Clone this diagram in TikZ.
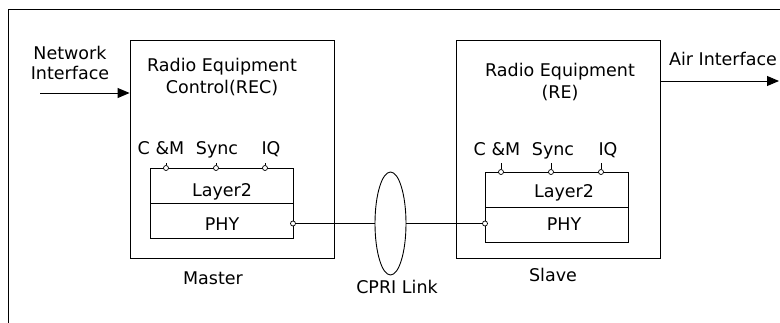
\documentclass[tikz,border=0pt]{standalone}
\usepackage{fontspec}
\setmainfont{DejaVu Sans}
\usetikzlibrary{arrows.meta,shapes.geometric}
\begin{document}
\begin{tikzpicture}[x=1pt,y=-1pt,
  every node/.style={font=\fontsize{17.5}{21}\selectfont, inner sep=0pt},
  txt/.style={anchor=base},
  box/.style={draw, line width=0.9pt, inner sep=0pt},
  ln/.style={line width=0.9pt},
  port/.style={circle, draw, fill=white, line width=0.7pt, minimum size=5pt, inner sep=0pt},
  arr/.style={ln, -{Triangle[length=12pt,width=10pt]}}]
\useasboundingbox (0,0) rectangle (780,322);
% frame
\coordinate (fbl) at (8,323);
\coordinate (ftl) at (8,9);
\coordinate (ftr) at (781,9);
\draw[ln] (fbl) -- (ftl) -- (ftr);
% master
\node[box, minimum width=204pt, minimum height=218pt] (rec) at (232,149) {};
\node[box, minimum width=143pt, minimum height=35pt] (ml2) at (221.5,185.5) {};
\node[box, minimum width=143pt, minimum height=35pt] (mphy) at (221.5,220.5) {};
\node[txt] (ml2t) at (222,196.5) {Layer2};
\node[txt] (mphyt) at (222,230) {PHY};
\node[txt] (rect1) at (222,71.7) {Radio Equipment};
\node[txt] (rect2) at (222,93.5) {Control(REC)};
\node[txt] (mcm) at (161,154) {C \&M};
\node[txt] (msy) at (217,154) {Sync};
\node[txt] (miq) at (271,154) {IQ};
\node[txt] (mast) at (213,284) {Master};
\coordinate (mt1) at (166,163);
\coordinate (mt2) at (216,163);
\coordinate (mt3) at (265,163);
\node[port] (mp1) at (166,168) {};
\node[port] (mp2) at (216,168) {};
\node[port] (mp3) at (265,168) {};
\draw[ln] (mt1) -- (mp1.north) (mt2) -- (mp2.north) (mt3) -- (mp3.north);
\node[port] (mpp) at (293,223.5) {};
% network interface
\node[txt] (ni1) at (70,59.3) {Network};
\node[txt] (ni2) at (70,79) {Interface};
\coordinate (nis) at (40,93);
\draw[arr] (nis) -- (nis -| rec.west);
% slave
\node[box, minimum width=204pt, minimum height=218pt] (re) at (558,149) {};
\node[box, minimum width=143pt, minimum height=35pt] (sl2) at (556.5,189.5) {};
\node[box, minimum width=143pt, minimum height=35pt] (sphy) at (556.5,224.5) {};
\node[txt] (sl2t) at (564,197) {Layer2};
\node[txt] (sphyt) at (564,230) {PHY};
\node[txt] (ret1) at (560,76) {Radio Equipment};
\node[txt] (ret2) at (560,98) {(RE)};
\node[txt] (scm) at (497,155) {C \&M};
\node[txt] (ssy) at (553,155) {Sync};
\node[txt] (siq) at (608,155) {IQ};
\node[txt] (slav) at (553,281) {Slave};
\coordinate (st1) at (501,163);
\coordinate (st2) at (551,163);
\coordinate (st3) at (601,163);
\node[port] (sp1) at (501,172) {};
\node[port] (sp2) at (551,172) {};
\node[port] (sp3) at (601,172) {};
\draw[ln] (st1) -- (sp1.north) (st2) -- (sp2.north) (st3) -- (sp3.north);
\node[port] (spp) at (485,223.5) {};
% air interface
\node[txt] (ai) at (723,65) {Air Interface};
\coordinate (aie) at (779,81);
\draw[arr] (aie -| re.east) -- (aie);
% CPRI link
\node[draw, ellipse, line width=0.9pt, minimum width=31pt, minimum height=103pt, inner sep=0pt] (cpri) at (390.5,223.5) {};
\node[txt] (cprit) at (397,293) {CPRI Link};
\draw[ln] (mpp.east) -- (cpri.west);
\draw[ln] (cpri.east) -- (spp.west);
\end{tikzpicture}
\end{document}
